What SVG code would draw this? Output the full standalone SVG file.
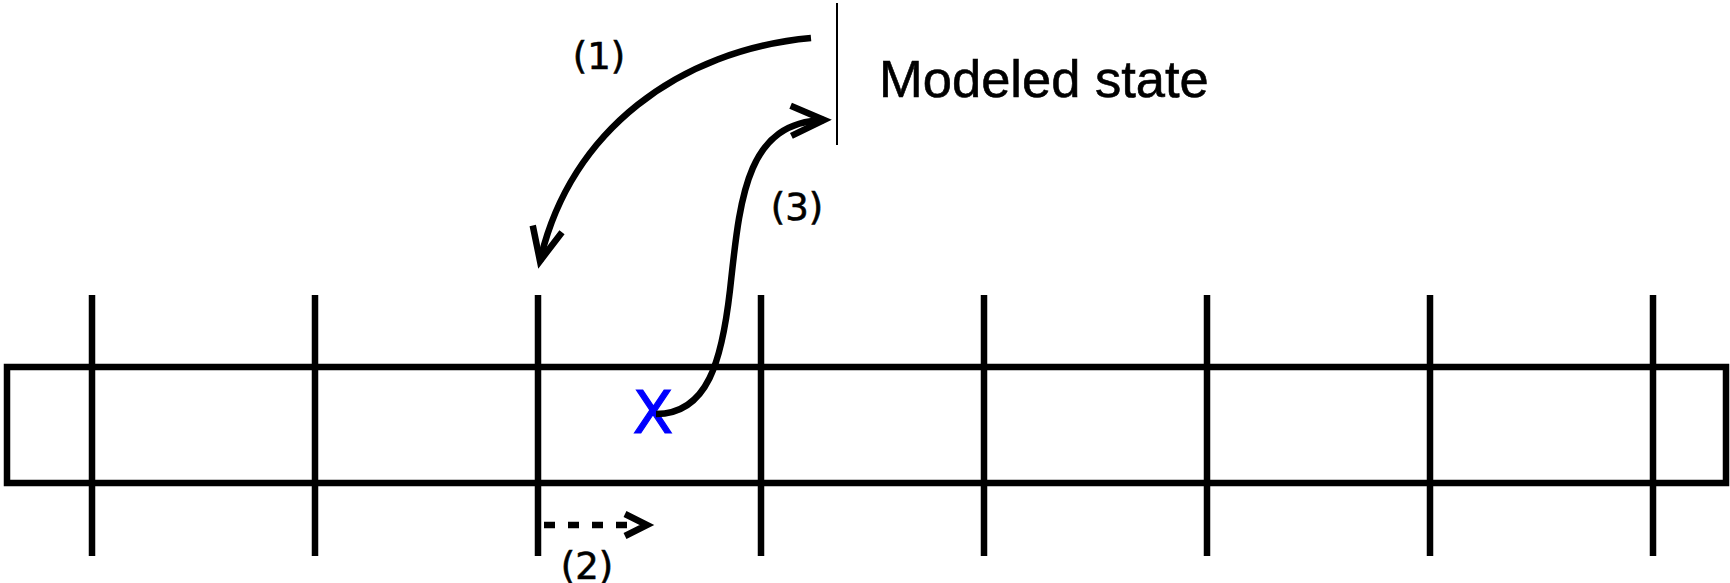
<svg xmlns="http://www.w3.org/2000/svg" width="1730" height="583" viewBox="0 0 1730 583">
<style>
.ln{stroke:#000;stroke-width:6.5;fill:none}
.cv{stroke:#000;stroke-width:6.5;fill:none}
.lbl{font-family:"DejaVu Sans",sans-serif;font-size:37px;fill:#000;text-anchor:middle;stroke:#000;stroke-width:0.6}
</style>
<defs>
<marker id="chev" markerUnits="userSpaceOnUse" markerWidth="60" markerHeight="60" refX="0" refY="0" orient="auto" overflow="visible">
<path d="M-33,-15 L0,0 L-33,15" fill="none" stroke="#000" stroke-width="6.5" stroke-miterlimit="10"/>
</marker>
<marker id="chevs" markerUnits="userSpaceOnUse" markerWidth="40" markerHeight="40" refX="0" refY="0" orient="auto" overflow="visible">
<path d="M-22,-11 L0,0 L-22,11" fill="none" stroke="#000" stroke-width="6.5" stroke-miterlimit="10"/>
</marker>
</defs>
<rect width="1730" height="583" fill="#fff"/>
<g id="state-bar">
<rect x="7" y="367" width="1719" height="116" class="ln"/>
</g>
<g id="grid-lines">
<line x1="92" y1="295" x2="92" y2="556" class="ln"/>
<line x1="315" y1="295" x2="315" y2="556" class="ln"/>
<line x1="538" y1="295" x2="538" y2="556" class="ln"/>
<line x1="761" y1="295" x2="761" y2="556" class="ln"/>
<line x1="984" y1="295" x2="984" y2="556" class="ln"/>
<line x1="1207" y1="295" x2="1207" y2="556" class="ln"/>
<line x1="1430" y1="295" x2="1430" y2="556" class="ln"/>
<line x1="1653" y1="295" x2="1653" y2="556" class="ln"/>
</g>
<g id="modeled-state">
<line x1="837" y1="3" x2="837" y2="145" stroke="#000" stroke-width="2"/>
<text x="879" y="97" font-family="Liberation Sans, Arial, sans-serif" font-size="52.5" fill="#000" stroke="#000" stroke-width="0.6">Modeled state</text>
</g>
<g id="x-mark">
<text x="653" y="433" font-family="DejaVu Sans, sans-serif" font-size="59" fill="#0000ff" text-anchor="middle" stroke="#0000ff" stroke-width="1.2">X</text>
</g>
<g id="connectors">
<path d="M811,38 C680,50 570,130 540,261" class="cv" marker-end="url(#chev)"/>
<path d="M656,414 C708,414 722,360 730,290 C740,200 745,122 824,120" class="cv" marker-end="url(#chev)"/>
<path d="M544,525 L631,525" class="cv" stroke-dasharray="11 13"/>
<path d="M640,525 L647,525" stroke="none" fill="none" marker-end="url(#chevs)"/>
</g>
<g id="labels">
<text x="599" y="69" class="lbl">(1)</text>
<text x="587" y="579" class="lbl">(2)</text>
<text x="797" y="220" class="lbl">(3)</text>
</g>
</svg>
